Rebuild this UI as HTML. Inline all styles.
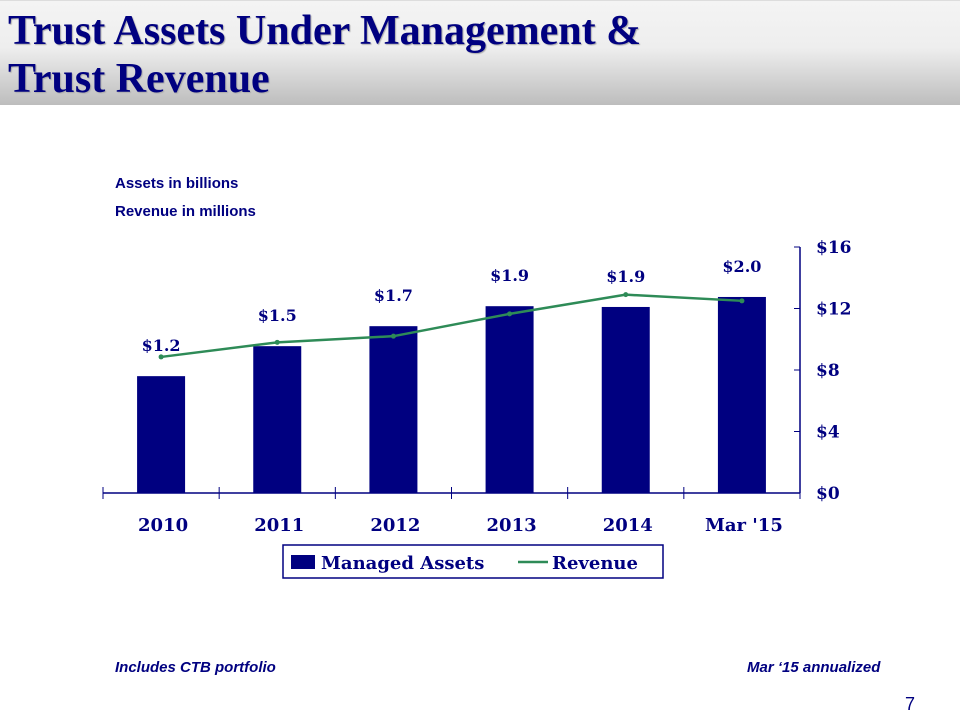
<!DOCTYPE html>
<html><head><meta charset="utf-8"><style>
body{margin:0;width:960px;height:720px;background:#fff;position:relative;overflow:hidden;font-family:"Liberation Sans",sans-serif}
#hdr{position:absolute;left:0;top:0;width:960px;height:104px;background:linear-gradient(#f4f4f4 0%,#eeeeee 45%,#bdbdbd 100%);border-top:1px solid #ddd}
#title{position:absolute;left:8px;top:6px;margin:0;font:bold 42px/48px "Liberation Serif",serif;color:#000080;text-shadow:1px 1px 1px #aaa;white-space:nowrap}
.note{position:absolute;color:#000080;font:bold 15px "Liberation Sans",sans-serif}
.foot{position:absolute;color:#000080;font:italic bold 15px "Liberation Sans",sans-serif}
svg text{font-family:"DejaVu Serif",serif;font-weight:bold;fill:#000080}
</style></head><body>
<div id="hdr"><h1 id="title">Trust Assets Under Management &amp;<br>Trust Revenue</h1></div>
<div class="note" style="left:115px;top:175px">Assets in billions</div>
<div class="note" style="left:115px;top:203px">Revenue in millions</div>
<svg id="chart" width="960" height="720" style="position:absolute;left:0;top:0"></svg>
<div class="foot" style="left:115px;top:659px">Includes CTB portfolio</div>
<div class="foot" style="left:747px;top:659px">Mar ‘15 annualized</div>
<div style="position:absolute;left:905px;top:694px;font:18px 'Liberation Sans',sans-serif;color:#000080">7</div>
<script>
const categories=["2010","2011","2012","2013","2014","Mar '15"];
const assetHeights=[7.6,9.55,10.85,12.15,12.1,12.75];
const assetLabels=["$1.2","$1.5","$1.7","$1.9","$1.9","$2.0"];
const revenue=[8.85,9.8,10.2,11.65,12.9,12.5];
const yTicks=[0,4,8,12,16];
const yTickLabels=["$0","$4","$8","$12","$16"];

const NS="http://www.w3.org/2000/svg";
const svg=document.getElementById('chart');
const X0=103,X1=800,Y0=493,Y1=247,YMAX=16;
const step=(X1-X0)/categories.length;
const xc=i=>X0+step*(i+0.5);
const y=v=>Y0-(v/YMAX)*(Y0-Y1);
function mk(tag,attrs,txt){const e=document.createElementNS(NS,tag);for(const k in attrs)e.setAttribute(k,attrs[k]);if(txt!==undefined)e.textContent=txt;svg.appendChild(e);return e;}

categories.forEach((c,i)=>{
  const b=mk('rect',{x:xc(i)-24,y:y(assetHeights[i]),width:48,height:Y0-y(assetHeights[i]),fill:'#000080'});
  
  
  const l=mk('text',{x:xc(i),y:y(assetHeights[i])-25,'text-anchor':'middle','font-size':'16'},assetLabels[i]);
  
  
  const t=mk('text',{x:xc(i)+2,y:531,'text-anchor':'middle','font-size':'18'},c);
  
  
});
const ax=mk('line',{x1:X0,y1:Y0,x2:X1,y2:Y0,stroke:'#000080','stroke-width':1.5});


for(let i=0;i<=categories.length;i++){
  const tk=mk('line',{x1:X0+step*i,y1:Y0-6,x2:X0+step*i,y2:Y0+6,stroke:'#000080','stroke-width':1});
  
  
}
const ay=mk('line',{x1:X1,y1:Y1,x2:X1,y2:Y0,stroke:'#000080','stroke-width':1.5});


yTicks.forEach((v,i)=>{
  const tk=mk('line',{x1:X1-6,y1:y(v),x2:X1,y2:y(v),stroke:'#000080','stroke-width':1});
  
  
  const t=mk('text',{x:816,y:y(v)+6,'font-size':'17'},yTickLabels[i]);
  
  
});
const pts=revenue.map((v,i)=>xc(i)+','+y(v)).join(' ');
const pl=mk('polyline',{points:pts,fill:'none',stroke:'#2e8b57','stroke-width':2.5});


revenue.forEach((v,i)=>{
  const p=mk('circle',{cx:xc(i),cy:y(v),r:2.5,fill:'#2e8b57'});
  
  
});
const lg=mk('rect',{x:283,y:545,width:380,height:33,fill:'#fff',stroke:'#000080','stroke-width':1.5});


const ls=mk('rect',{x:291,y:555,width:24,height:14,fill:'#000080'});


const lt1=mk('text',{x:321,y:569,'font-size':'18'},'Managed Assets');


const ll=mk('line',{x1:518,y1:562,x2:548,y2:562,stroke:'#2e8b57','stroke-width':2.5});


const lt2=mk('text',{x:552,y:569,'font-size':'18'},'Revenue');


</script>
</body></html>
